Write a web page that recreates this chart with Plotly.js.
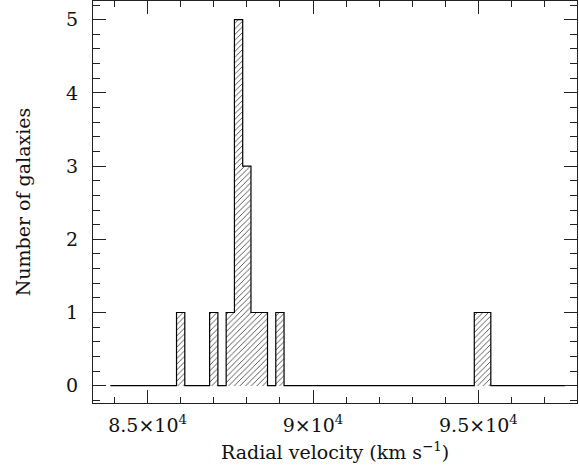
<!DOCTYPE html>
<html>
<head>
<meta charset="utf-8">
<script src="https://cdn.plot.ly/plotly-3.0.1.min.js"></script>
<style>html,body{margin:0;padding:0;background:#fff;}#chart{width:579px;height:472px;}</style>
</head>
<body>
<div id="chart"></div>
<script>
// Histogram bins (km/s): left edge of first bin, bin width, counts per bin
const binStart = 83875;
const binWidth = 250;
const counts = [
  0,0,0,0,0,0,0,0,      // 83875 - 85875
  1,                    // 85875 - 86125
  0,0,0,                // 86125 - 86875
  1,                    // 86875 - 87125
  0,                    // 87125 - 87375
  1,5,3,1,1,            // 87375 - 88625
  0,                    // 88625 - 88875
  1,                    // 88875 - 89125
  0,0,0,0,0,0,0,0,0,0,0,0,0,0,0,0,0,0,0,0,0,0,0, // 89125 - 94875
  1,1,                  // 94875 - 95375
  0,0,0,0,0,0,0,0,0     // 95375 - 97625
];
const xTickVals = [85000, 90000, 95000];
const xTickText = ['8.5×10<sup>4</sup>', '9×10<sup>4</sup>', '9.5×10<sup>4</sup>'];
const yTickVals = [0, 1, 2, 3, 4, 5];

const centers = counts.map((c, i) => binStart + binWidth * (i + 0.5));
const edges = counts.map((c, i) => binStart + binWidth * i);
const stepX = edges.concat([binStart + binWidth * counts.length]);
const stepY = counts.concat([counts[counts.length - 1]]);

const font = {family: 'DejaVu Serif, Liberation Serif, serif', size: 19, color: '#111'};

const traces = [
  {
    type: 'bar', x: centers, y: counts, width: binWidth,
    marker: {color: '#fff', line: {width: 0},
      pattern: {shape: '/', size: 4, solidity: 0.22, fgcolor: '#444', bgcolor: '#fff'}},
    hoverinfo: 'skip', showlegend: false
  },
  {
    type: 'scatter', mode: 'lines', x: stepX, y: stepY,
    line: {shape: 'hv', color: '#000', width: 1.2},
    hoverinfo: 'skip', showlegend: false
  }
];

const axisCommon = {
  showgrid: false, zeroline: false, showline: true, linecolor: '#222', linewidth: 1,
  mirror: 'allticks', ticks: 'inside', ticklen: 13, tickcolor: '#222', tickwidth: 1,
  tickfont: font
};

const layout = {
  width: 579, height: 472,
  margin: {l: 93, r: 2, t: 1, b: 69},
  paper_bgcolor: '#fff', plot_bgcolor: '#fff',
  bargap: 0,
  xaxis: Object.assign({}, axisCommon, {
    range: [83350, 97980],
    tickmode: 'array', tickvals: xTickVals, ticktext: xTickText,
    ticklabelstandoff: 5,
    minor: {tick0: 0, dtick: 1000, ticks: 'inside', ticklen: 6, tickcolor: '#222', tickwidth: 1},
    title: {text: 'Radial velocity (km s<sup>−1</sup>)', font: font, standoff: 10}
  }),
  yaxis: Object.assign({}, axisCommon, {
    range: [-0.236, 5.255],
    tickmode: 'array', tickvals: yTickVals,
    ticklabelstandoff: 10,
    minor: {tick0: 0, dtick: 0.2, ticks: 'inside', ticklen: 7, tickcolor: '#222', tickwidth: 1},
    title: {text: 'Number of galaxies', font: font, standoff: 30}
  })
};

Plotly.newPlot('chart', traces, layout, {staticPlot: true, displayModeBar: false});
</script>
</body>
</html>
